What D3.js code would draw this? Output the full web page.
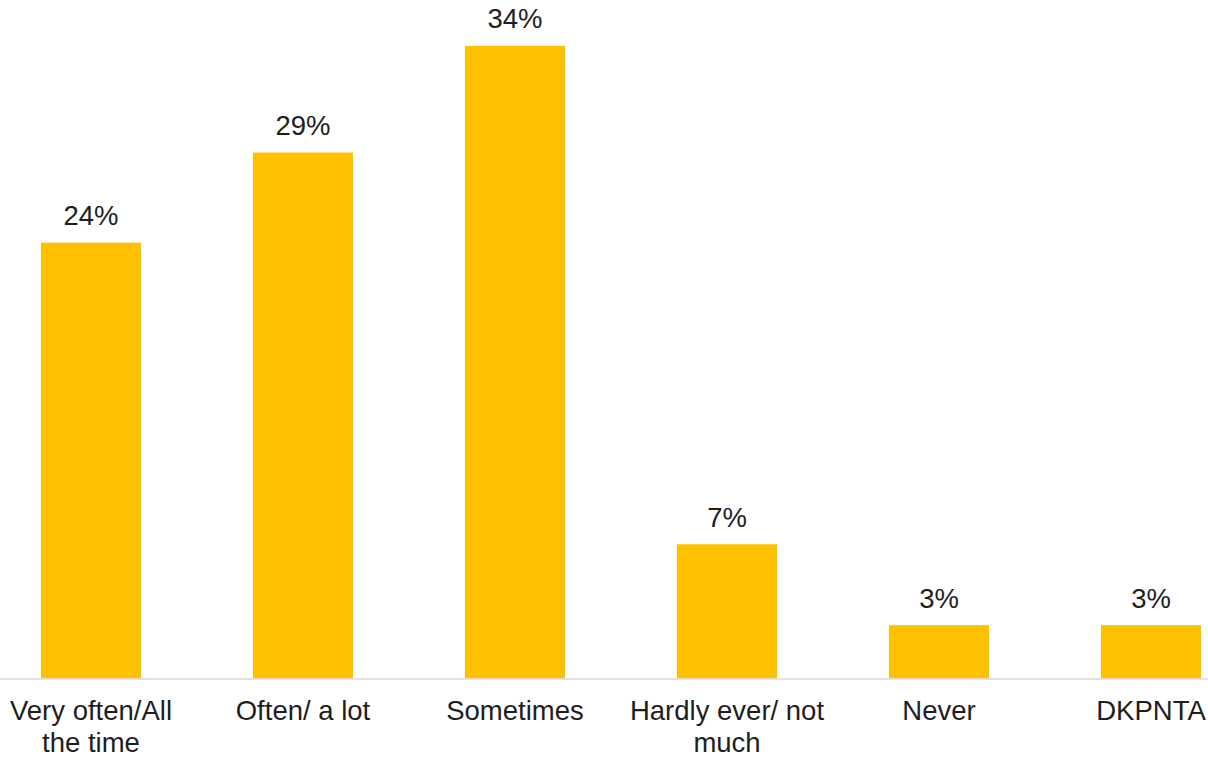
<!DOCTYPE html>
<meta charset="utf-8">
<script src="https://cdn.jsdelivr.net/npm/d3@7/dist/d3.min.js"></script>
<style>
body { margin: 0; background: #fff; }
text {
  font-family: "Liberation Sans", Arial, sans-serif;
  fill: #1e1e1e;
}
</style>
<body>
<script>

// data (bar heights estimated, labels rounded)
var categories = ["Very often/All the time", "Often/ a lot", "Sometimes", "Hardly ever/ not much", "Never", "DKPNTA"];
var categoryLines = [["Very often/All", "the time"], ["Often/ a lot"], ["Sometimes"], ["Hardly ever/ not", "much"], ["Never"], ["DKPNTA"]];
var values = [23.7, 28.6, 34.4, 7.3, 2.9, 2.9];

var width = 1208,
    height = 757;

var svg = d3.select("body").append("svg")
    .attr("width", width)
    .attr("height", height);

var x = d3.scaleBand()
    .domain(categories)
    .range([-15, 1257])
    .paddingInner(0.528)
    .paddingOuter(0.264);

var y = d3.scaleLinear()
    .domain([0, 35])
    .range([678.5, 678.5 - 35 * 18.39]);

// bars
svg.append("g")
  .selectAll("rect")
  .data(values)
  .enter().append("rect")
    .attr("x", function(d, i) { return x(categories[i]); })
    .attr("y", function(d) { return y(d); })
    .attr("width", x.bandwidth())
    .attr("height", function(d) { return y(0) - y(d); })
    .style("fill", "#FFC000");

// baseline
svg.append("line")
    .attr("x1", 0)
    .attr("x2", width)
    .attr("y1", y(0) + 0.5)
    .attr("y2", y(0) + 0.5)
    .style("stroke", "#d9d9d9")
    .style("stroke-width", 1.5);

// value labels
svg.append("g")
  .selectAll("text")
  .data(values)
  .enter().append("text")
    .attr("x", function(d, i) { return x(categories[i]) + x.bandwidth() / 2; })
    .attr("y", function(d) { return y(d) - 17.5; })
    .attr("text-anchor", "middle")
    .style("font-size", "27.5px")
    .text(function(d) { return Math.round(d) + "%"; });

// category labels
var cat = svg.append("g")
  .selectAll("text")
  .data(categoryLines)
  .enter().append("text")
    .attr("text-anchor", "middle")
    .style("font-size", "27.5px")
    .attr("transform", function(d, i) {
      return "translate(" + (x(categories[i]) + x.bandwidth() / 2) + ",720)";
    });

cat.selectAll("tspan")
  .data(function(d) { return d; })
  .enter().append("tspan")
    .attr("x", 0)
    .attr("y", function(d, j) { return j * 31.5; })
    .text(function(d) { return d; });

</script>
</body>
